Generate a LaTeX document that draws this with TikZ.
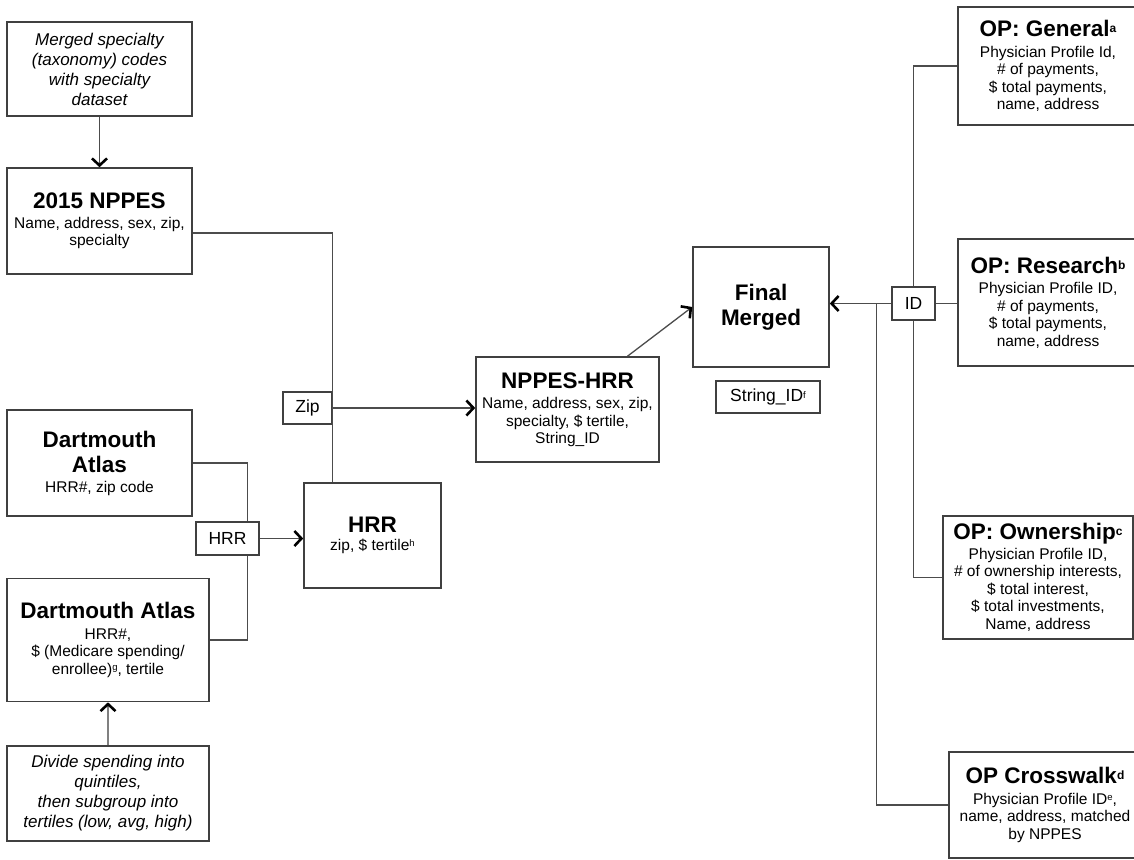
\documentclass[tikz,border=0pt]{standalone}
\usepackage{fontspec}
\setmainfont{Liberation Sans}
\usetikzlibrary{arrows.meta,calc}
\def\ttl{\fontsize{22.5}{26}\selectfont\bfseries}
\def\txt{\fontsize{15.5}{17.5}\selectfont}
\def\itl{\fontsize{17}{20}\selectfont\itshape}
\def\lbl{\fontsize{17.5}{20}\selectfont}
\newcommand\fnm[1]{\raisebox{4pt}{\fontsize{12}{12}\selectfont #1}}
\newcommand\fnb[1]{\raisebox{3.5pt}{\fontsize{9.5}{9.5}\selectfont #1}}

\begin{document}
\begin{tikzpicture}[x=1pt,y=-1pt,
	box/.style={draw=black!75, line width=1.6pt, align=center, inner sep=2pt, font=\txt},
	tag/.style={draw=black!75, line width=1.4pt, font=\lbl, inner sep=0pt},
	link/.style={draw=black!70, line width=1.3pt},
	flow/.style={link, -{Straight Barb[length=7pt,width=15pt,line width=2.6pt,color=black]}}]
			%%%%% START %%%%%
			
			\fill[white] (0, 0) rectangle (1134, 859);
			\useasboundingbox (0, 0) rectangle (1134, 859);
			
			% left column
			\node[box, font=\itl, minimum width=185pt, minimum height=94pt] (spec) at (99.5, 69) {Merged specialty\\(taxonomy) codes\\with specialty\\dataset};
			\node[box, minimum width=185pt, minimum height=106pt] (nppes) at (99.5, 221) {{\ttl 2015 NPPES}\\[2pt]Name, address, sex, zip,\\specialty};
			\node[box, minimum width=185pt, minimum height=106pt] (atlas1) at (99.5, 463) {{\ttl Dartmouth}\\[8pt]{\ttl Atlas}\\[2pt]HRR\#, zip code};
			\node[box, minimum width=202pt, minimum height=123pt] (atlas2) at (108, 640) {{\ttl Dartmouth Atlas}\\[3pt]HRR\#,\\\$ (Medicare spending/\\enrollee)\fnb{g}, tertile};
			\node[box, font=\itl, minimum width=202pt, minimum height=95pt] (divide) at (108, 793.5) {Divide spending into\\quintiles,\\then subgroup into\\tertiles (low, avg, high)};
			
			% middle
			\node[tag, minimum width=49pt, minimum height=32pt] (zip) at (307.5, 408) {Zip};
			\node[tag, minimum width=63pt, minimum height=33pt] (hrrlbl) at (227.5, 538.5) {HRR};
			\node[box, minimum width=137pt, minimum height=105pt] (hrr) at (372.5, 535.5) {{\ttl HRR}\\zip, \$ tertile\fnb{h}};
			\node[box, minimum width=183pt, minimum height=105pt] (nppeshrr) at (567.5, 409.5) {{\ttl NPPES-HRR}\\[3pt]Name, address, sex, zip,\\specialty, \$ tertile,\\String\_ID};
			\node[box, minimum width=136pt, minimum height=120pt] (final) at (761, 307) {{\ttl Final}\\[8pt]{\ttl Merged}};
			\node[tag, minimum width=104pt, minimum height=32pt] (strid) at (768, 397) {String\_ID\fnb{f}};
			\node[tag, minimum width=43pt, minimum height=33pt] (idlbl) at (913.5, 303.5) {ID};
			
			% right column
			\node[box, minimum width=180pt, minimum height=118pt] (general) at (1048, 66) {{\ttl OP: General\fnm{a}}\\[3pt]Physician Profile Id,\\\# of payments,\\\$ total payments,\\name, address};
			\node[box, minimum width=180pt, minimum height=127pt] (research) at (1048, 302.5) {{\ttl OP: Research\fnm{b}}\\[3pt]Physician Profile ID,\\\# of payments,\\\$ total payments,\\name, address};
			\node[box, minimum width=190pt, minimum height=123pt] (ownership) at (1038, 577.5) {{\ttl OP: Ownership\fnm{c}}\\[2pt]Physician Profile ID,\\\# of ownership interests,\\\$ total interest,\\\$ total investments,\\Name, address};
			\node[box, minimum width=192pt, minimum height=106pt] (crosswalk) at (1045, 805) {{\ttl OP Crosswalk\fnm{d}}\\[3pt]Physician Profile ID\fnb{e},\\name, address, matched\\by NPPES};
			
			% connectors
			\draw[flow] (spec) -- (nppes);
			\draw[link] ([yshift=-12pt]nppes.east) -| (zip.east |- hrr.north);
			\draw[flow] (zip.east) -- (zip.east -| nppeshrr.west);
			\draw[link] (atlas1.east) -| ([xshift=20pt]hrrlbl.north);
			\draw[link] (atlas2.east) -| ([xshift=20pt]hrrlbl.south);
			\draw[flow] (hrrlbl.east) -- (hrrlbl.east -| hrr.west);
			\draw[flow, draw=black!50] (divide) -- (atlas2);
			\draw[flow] ([xshift=60pt]nppeshrr.north) -- (final.west);
			\draw[flow] (idlbl.west) -- (idlbl.west -| final.east);
			\draw[link] (general.west) -| (idlbl.north);
			\draw[link] (idlbl.east) -- (idlbl.east -| research.west);
			\draw[link] (idlbl.south) |- (ownership.west);
			\draw[link] ([xshift=-15pt]idlbl.west) |- (crosswalk.west);
			
			%%%%% END %%%%%
\end{tikzpicture}
\end{document}
